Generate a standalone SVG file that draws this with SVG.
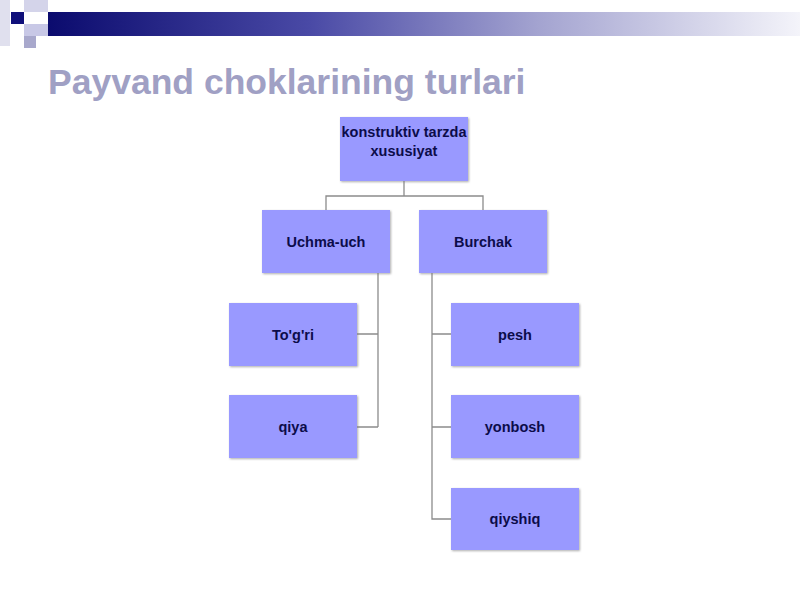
<svg xmlns="http://www.w3.org/2000/svg" width="800" height="600" viewBox="0 0 800 600">
<defs>
<linearGradient id="bar" x1="0" y1="0" x2="1" y2="0">
<stop offset="0" stop-color="#0b0b6e"/>
<stop offset="0.35" stop-color="#4a4aa6"/>
<stop offset="0.65" stop-color="#a3a3d0"/>
<stop offset="1" stop-color="#f4f4fa"/>
</linearGradient>
<filter id="sh" x="-5%" y="-5%" width="115%" height="115%">
<feDropShadow dx="1" dy="1" stdDeviation="0.8" flood-color="#777" flood-opacity="0.6"/>
</filter>
</defs>
<style>
.box{fill:#9999ff;filter:url(#sh)}
.lbl{font-family:"Liberation Sans",Arial,sans-serif;font-weight:bold;font-size:14.5px;fill:#0c0c4a;text-anchor:middle}
.con{stroke:#8c8c8c;stroke-width:1.3;fill:none}
</style>
<rect width="800" height="600" fill="#ffffff"/>
<g id="decor">
<rect x="48" y="12" width="752" height="24" fill="url(#bar)"/>
<rect x="0" y="0" width="10" height="46" fill="#e0e0ee"/>
<rect x="24" y="0" width="24" height="12" fill="#d4d4ea"/>
<rect x="11" y="12" width="13" height="12" fill="#10107a"/>
<rect x="24" y="24" width="24" height="12" fill="#c8c8e6"/>
<rect x="24" y="36" width="12" height="12" fill="#a8a8cc"/>
</g>
<text x="48" y="94" font-family="'Liberation Sans',Arial,sans-serif" font-weight="bold" font-size="35.5" fill="#a0a0c4">Payvand choklarining turlari</text>
<g id="connectors">
<path class="con" d="M404 181V196M326 210V196H483V210"/>
<path class="con" d="M378 273V427M357 334H378M357 427H378"/>
<path class="con" d="M432 273V519H451M432 334H451M432 427H451"/>
</g>
<g id="n-top"><rect class="box" x="340" y="117" width="128" height="64"/><text class="lbl" x="404" y="137">konstruktiv tarzda</text><text class="lbl" x="404" y="156">xususiyat</text></g>
<g id="n-uchma"><rect class="box" x="262" y="210" width="128" height="63"/><text class="lbl" x="326" y="247">Uchma-uch</text></g>
<g id="n-burchak"><rect class="box" x="419" y="210" width="128" height="63"/><text class="lbl" x="483" y="247">Burchak</text></g>
<g id="n-togri"><rect class="box" x="229" y="303" width="128" height="63"/><text class="lbl" x="293" y="340">To'g'ri</text></g>
<g id="n-qiya"><rect class="box" x="229" y="395" width="128" height="63"/><text class="lbl" x="293" y="432">qiya</text></g>
<g id="n-pesh"><rect class="box" x="451" y="303" width="128" height="63"/><text class="lbl" x="515" y="340">pesh</text></g>
<g id="n-yonbosh"><rect class="box" x="451" y="395" width="128" height="63"/><text class="lbl" x="515" y="432">yonbosh</text></g>
<g id="n-qiyshiq"><rect class="box" x="451" y="488" width="128" height="62"/><text class="lbl" x="515" y="524">qiyshiq</text></g>
</svg>
